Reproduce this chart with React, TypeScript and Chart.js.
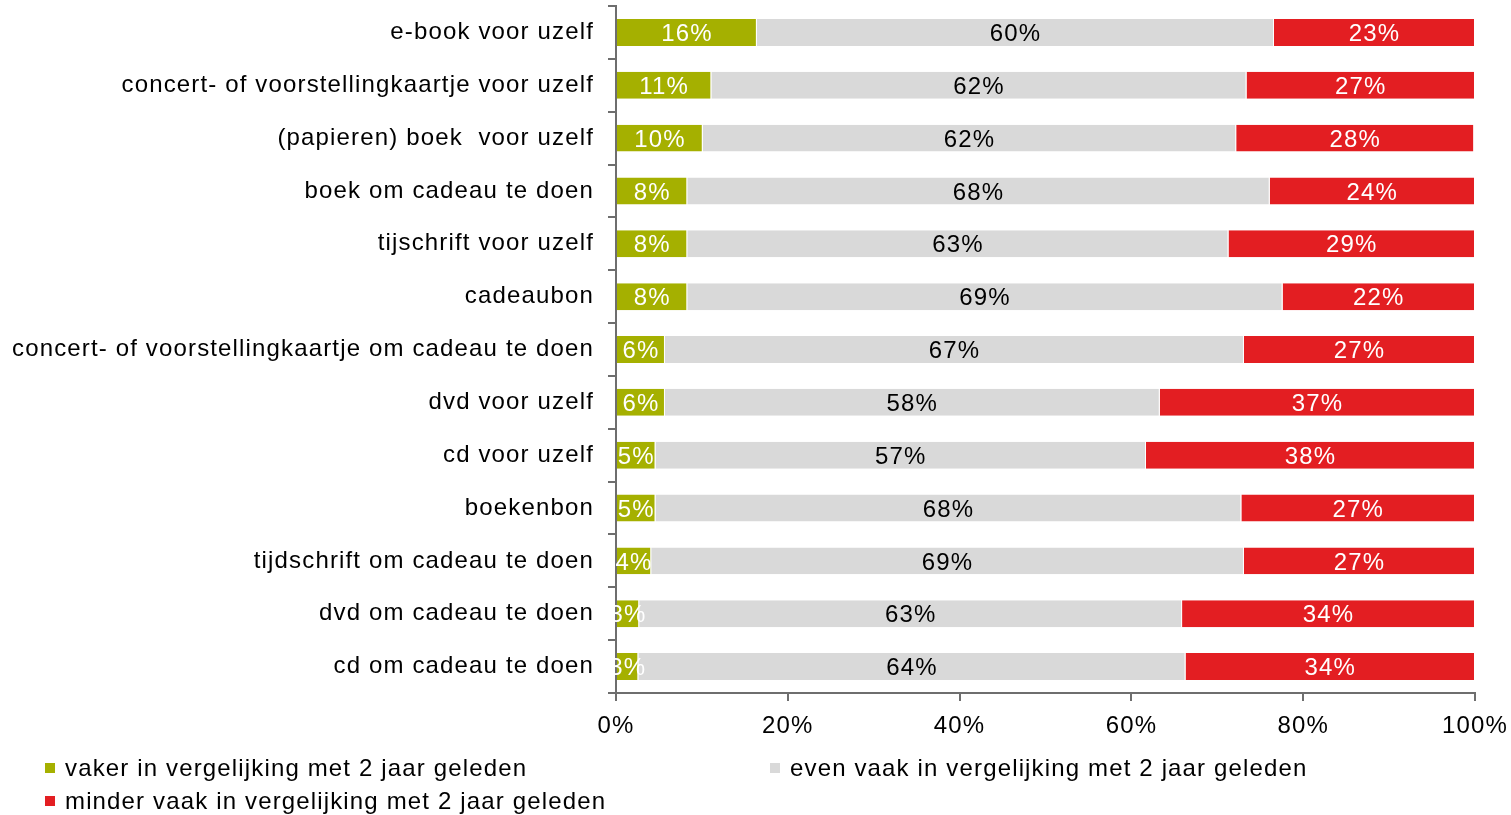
import React, { useEffect, useRef } from "react";
import { Chart, registerables } from "chart.js";

Chart.register(...registerables);

const categories = [
  "e-book voor uzelf",
  "concert- of voorstellingkaartje voor uzelf",
  "(papieren) boek  voor uzelf",
  "boek om cadeau te doen",
  "tijschrift voor uzelf",
  "cadeaubon",
  "concert- of voorstellingkaartje om cadeau te doen",
  "dvd voor uzelf",
  "cd voor uzelf",
  "boekenbon",
  "tijdschrift om cadeau te doen",
  "dvd om cadeau te doen",
  "cd om cadeau te doen",
];

const vaker = [16.4, 11.1, 10.1, 8.3, 8.3, 8.3, 5.7, 5.7, 4.6, 4.6, 4.1, 2.7, 2.6];
const evenVaak = [60.2, 62.3, 62.1, 67.8, 63.0, 69.3, 67.4, 57.6, 57.1, 68.2, 69.0, 63.2, 63.7];
const minderVaak = [23.4, 26.6, 27.7, 23.9, 28.7, 22.4, 26.9, 36.7, 38.3, 27.2, 26.9, 34.1, 33.7];

const seriesNames = [
  "vaker in vergelijking met 2 jaar geleden",
  "even vaak in vergelijking met 2 jaar geleden",
  "minder vaak in vergelijking met 2 jaar geleden",
];
const seriesColors = ["#a5b000", "#d9d9d9", "#e31e22"];
const xTicks = [0, 20, 40, 60, 80, 100];

const FONT = '"Liberation Sans", Arial, sans-serif';
const AXIS_COLOR = "#6e6e6e";
const SPACING = "1.15px";

const spacingPlugin = {
  id: "spacing",
  beforeUpdate(chart: any) {
    (chart.ctx as any).letterSpacing = SPACING;
  },
  beforeDraw(chart: any) {
    (chart.ctx as any).letterSpacing = SPACING;
  },
};

const segLabelPlugin = {
  id: "segLabels",
  afterDatasetsDraw(chart: any) {
    const ctx = chart.ctx;
    const area = chart.chartArea;
    ctx.save();
    ctx.beginPath();
    ctx.rect(area.left - 2, 0, chart.width, chart.height);
    ctx.clip();
    ctx.font = `24px ${FONT}`;
    (ctx as any).letterSpacing = SPACING;
    ctx.textAlign = "center";
    ctx.textBaseline = "middle";
    chart.data.datasets.forEach((ds: any, di: number) => {
      const meta = chart.getDatasetMeta(di);
      meta.data.forEach((el: any, i: number) => {
        const v = ds.data[i];
        const { x, base, y } = el.getProps(["x", "base", "y"], true);
        ctx.fillStyle = di === 1 ? "#000000" : "#ffffff";
        ctx.fillText(Math.round(v) + "%", (x + base) / 2, y + 2);
      });
    });
    ctx.restore();
  },
};

export default function App() {
  const ref = useRef<HTMLCanvasElement>(null);

  useEffect(() => {
    const data = [vaker, evenVaak, minderVaak];
    const chart = new Chart(ref.current as HTMLCanvasElement, {
      type: "bar",
      data: {
        labels: categories,
        datasets: data.map((d, i) => ({
          label: seriesNames[i],
          data: d,
          backgroundColor: seriesColors[i],
          borderColor: "#ffffff",
          borderWidth: { left: 0, right: 1, top: 0, bottom: 0 },
          borderSkipped: false,
          barPercentage: 0.51,
          categoryPercentage: 1,
        })),
      },
      options: {
        indexAxis: "y",
        animation: false,
        responsive: false,
        devicePixelRatio: 1,
        layout: { padding: { top: 6, right: 36, left: 0, bottom: 0 } },
        plugins: {
          legend: { display: false },
          tooltip: { enabled: false },
        },
        scales: {
          y: {
            type: "category",
            stacked: true,
            offset: true,
            grid: {
              display: true,
              offset: true,
              drawOnChartArea: false,
              drawTicks: true,
              tickLength: 8,
              color: AXIS_COLOR,
              lineWidth: 2,
            },
            border: { display: true, color: AXIS_COLOR, width: 2 },
            ticks: {
              color: "#000000",
              font: { family: FONT, size: 24 },
              padding: 14,
              autoSkip: false,
            },
            afterFit(s: any) {
              s.width = 616;
              s.paddingTop = 0;
              s.paddingBottom = 0;
            },
          },
          x: {
            type: "linear",
            stacked: true,
            min: 0,
            max: 100,
            afterBuildTicks(s: any) {
              s.ticks = xTicks.map((v) => ({ value: v }));
            },
            ticks: {
              color: "#000000",
              font: { family: FONT, size: 24 },
              padding: 11,
              maxRotation: 0,
              callback: (v: any) => v + "%",
            },
            grid: {
              display: true,
              drawOnChartArea: false,
              drawTicks: true,
              tickLength: 8,
              color: AXIS_COLOR,
              lineWidth: 2,
            },
            border: { display: true, color: AXIS_COLOR, width: 2 },
            afterFit(s: any) {
              s.height = 815 - 693;
              s.paddingLeft = 0;
              s.paddingRight = 0;
            },
          },
        },
      },
      plugins: [spacingPlugin, segLabelPlugin],
    } as any);
    return () => chart.destroy();
  }, []);

  const legendPos = [
    { left: 45, top: 756 },
    { left: 770, top: 756 },
    { left: 45, top: 789 },
  ];

  return (
    <div
      style={{
        position: "absolute",
        left: 0,
        top: 0,
        width: 1511,
        height: 815,
        background: "#ffffff",
        overflow: "hidden",
      }}
    >
      <canvas
        ref={ref}
        width={1511}
        height={815}
        style={{ display: "block", width: 1511, height: 815 }}
      />
      {seriesNames.map((name, i) => (
        <div
          key={name}
          style={{
            position: "absolute",
            left: legendPos[i].left,
            top: legendPos[i].top,
            height: 24,
            display: "flex",
            alignItems: "center",
            fontFamily: FONT,
            fontSize: 24,
            lineHeight: "24px",
            letterSpacing: SPACING,
            color: "#000000",
            whiteSpace: "nowrap",
          }}
        >
          <span
            style={{
              display: "inline-block",
              width: 10,
              height: 10,
              background: seriesColors[i],
              marginRight: 10,
            }}
          />
          <span>{name}</span>
        </div>
      ))}
    </div>
  );
}
